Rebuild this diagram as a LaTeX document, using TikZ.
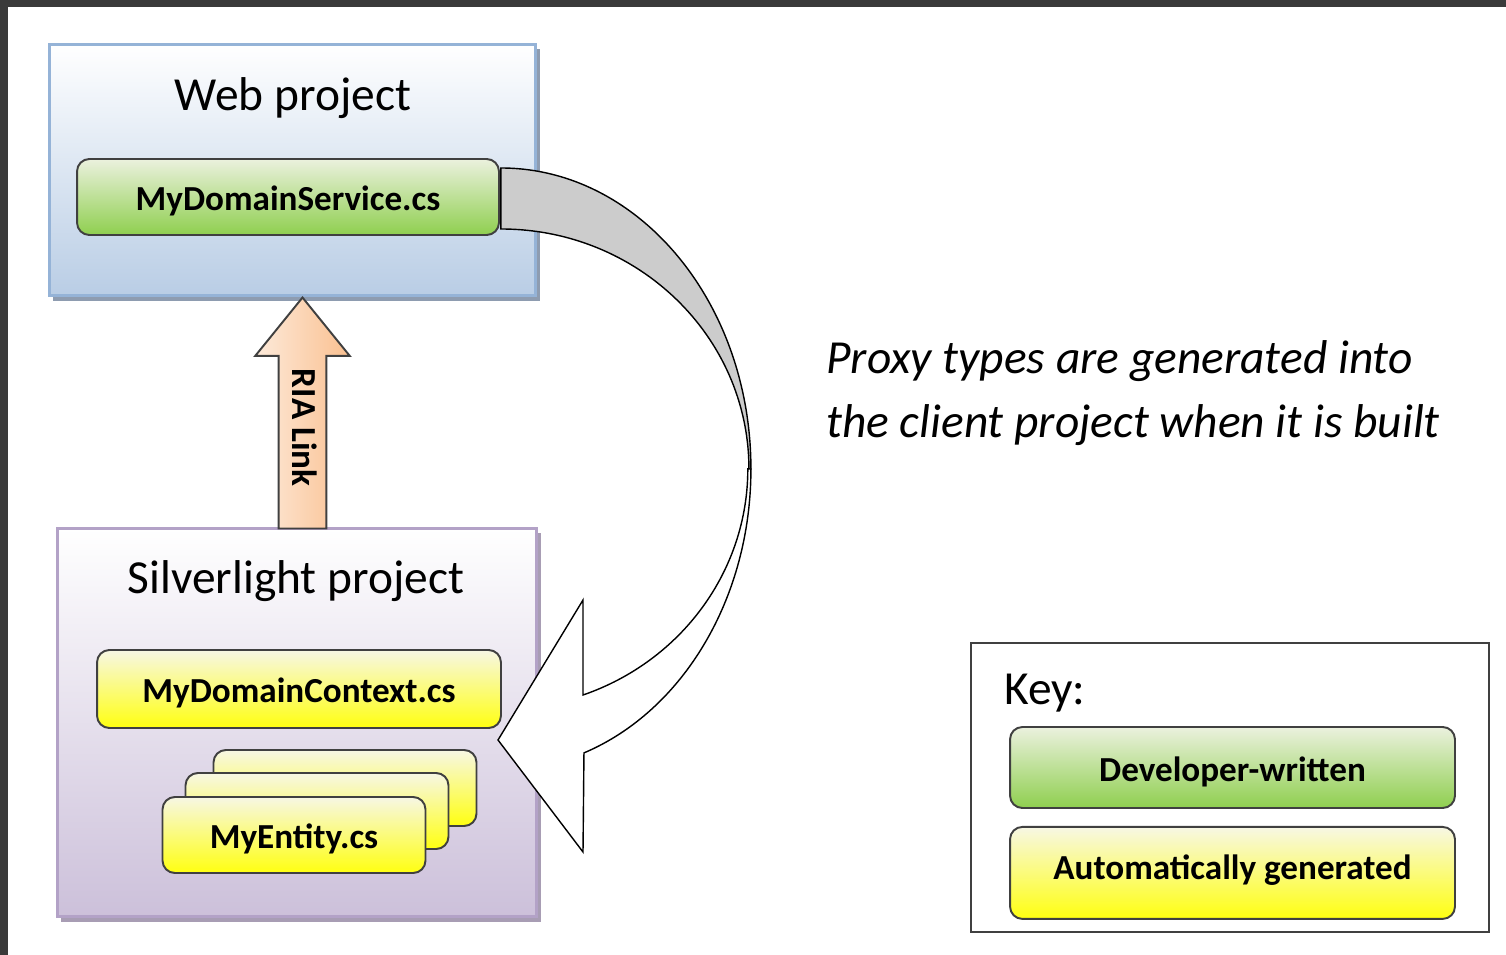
\documentclass[tikz,border=0pt]{standalone}
\usepackage{fontspec}
\setmainfont{Carlito}
\usepackage{tikz}
\usetikzlibrary{arrows.meta, shapes.arrows, shadows, positioning, calc}

\definecolor{frame}{HTML}{3A3A3A}
\definecolor{boxline}{HTML}{404040}
\definecolor{webline}{HTML}{95B3D7}
\definecolor{webbot}{HTML}{B9CDE5}
\definecolor{webshade}{HTML}{8E9CB0}
\definecolor{slline}{HTML}{B3A2C7}
\definecolor{slbot}{HTML}{CCC0DA}
\definecolor{slshade}{HTML}{A89DB4}
\definecolor{grntop}{HTML}{EBF1DE}
\definecolor{grnbot}{HTML}{8FCF4F}
\definecolor{ylwtop}{HTML}{F7F7E4}
\definecolor{ylwmid}{HTML}{FBFB9C}
\definecolor{ylwbot}{HTML}{FFFF10}
\definecolor{riatop}{HTML}{FDEADA}
\definecolor{riabot}{HTML}{FAC090}
\definecolor{bandgrey}{HTML}{CCCCCC}

\begin{document}
\begin{tikzpicture}[x=0.02cm, y=-0.02cm,
                    proj/.style = {draw, line width=1.7pt, top color=white, inner sep=0pt},
                    title/.style = {font=\fontsize{27}{32}\selectfont},
                    file/.style = {draw=boxline, line width=1.1pt, rounded corners=7pt, inner sep=0pt,
                                   minimum width=5.26cm, minimum height=1.52cm, text height=18pt, text depth=2.4pt,
                                   font=\fontsize{20}{24}\selectfont\bfseries},
                    devfile/.style = {file, top color=grntop, bottom color=grnbot},
                    genfile/.style = {file, top color=ylwtop, middle color=ylwmid, bottom color=ylwbot},
                    band/.style = {draw=black, line width=0.8pt}]
                    \useasboundingbox (0,0) rectangle (1506,955);
                    \fill[frame] (0,0) rectangle (1506,7);
                    \fill[frame] (0,0) rectangle (8,955);
                    % web side
                    \node[proj, draw=webline, bottom color=webbot, minimum width=9.74cm, minimum height=5.04cm,
                          drop shadow={shadow xshift=2.5pt, shadow yshift=-3pt, fill=webshade, opacity=1}] (web) at (292.5,170) {};
                    \node[title] (webtitle) at (293,98) {Web project};
                    \node[devfile, minimum width=8.44cm] (svc) at (288,197) {MyDomainService.cs};
                    % silverlight side
                    \node[proj, draw=slline, bottom color=slbot, minimum width=9.6cm, minimum height=7.78cm,
                          drop shadow={shadow xshift=2.5pt, shadow yshift=-3pt, fill=slshade, opacity=1}] (sl) at (297,722.5) {};
                    \node[title] (sltitle) at (296,581) {Silverlight project};
                    \node[genfile, minimum width=8.08cm, minimum height=1.56cm] (ctx) at (299,689) {MyDomainContext.cs};
                    \node[genfile] (ent3) at (345,788) {};
                    \node[genfile] (ent2) at (317,811) {};
                    \node[genfile] (ent1) at (294,835) {MyEntity.cs};
                    % RIA link
                    \node[single arrow, shape border rotate=180, rotate=-90, draw=boxline, line width=1.1pt,
                          left color=riatop, right color=riabot, anchor=tip,
                          minimum height=4.62cm, minimum width=1.86cm, single arrow head extend=0.47cm,
                          single arrow tip angle=78, inner xsep=0pt, inner ysep=4.5pt, text height=14pt, text depth=3pt,
                          font=\fontsize{20}{24}\selectfont\bfseries] (ria) at (302.5,296) {RIA Link};
                    % generated proxies
                    \coordinate (tip) at (498,740);
                    \draw[band, fill=bandgrey] ($(svc.east)+(1,-29)$)
                          arc[start angle=-90, end angle=0, x radius=250, y radius=301] coordinate (mid)
                          -- ++(-2,0) arc[start angle=0, end angle=-90, x radius=248, y radius=240] -- cycle;
                    \draw[band, fill=white] (mid)
                          arc[start angle=0, end angle=70.6, x radius=250, y radius=301]
                          -- (583,852) -- (tip) -- (583,600) -- (583,695)
                          arc[start angle=70.4, end angle=0, x radius=248, y radius=240] -- cycle;
                    \node[anchor=west, align=left, font=\fontsize{27}{36}\selectfont\itshape] (proxy) at (820,393)
                          {Proxy types are generated into\\the client project when it is built};
                    % key
                    \node[draw=boxline, line width=1.1pt, minimum width=10.36cm, minimum height=5.78cm] (key) at (1230,787.5) {};
                    \node[title, anchor=west] (keytitle) at (998,693) {Key:};
                    \node[devfile, minimum width=8.9cm, minimum height=1.62cm] (dev) at (1232.5,767.5) {Developer-written};
                    \node[genfile, minimum width=8.9cm, minimum height=1.84cm, below=0.34cm of dev, text height=12pt, text depth=4pt] (gen) {Automatically generated};
                    %\draw[-Latex] (sl) -- (web);
                \end{tikzpicture}
\end{document}
